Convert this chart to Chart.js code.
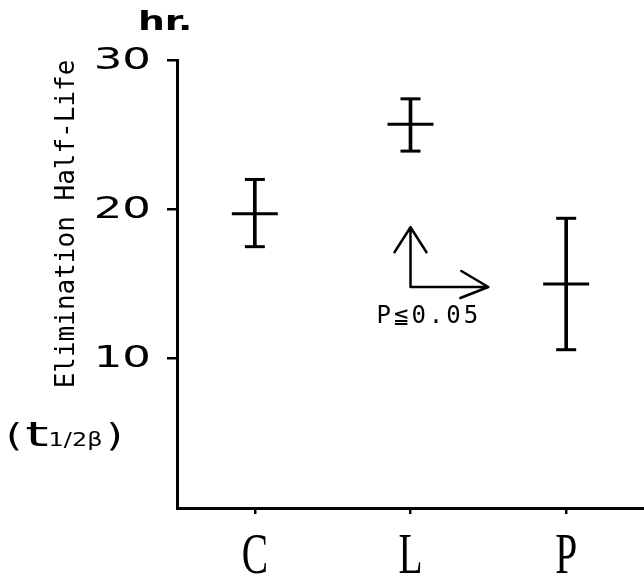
<!DOCTYPE html>
<html>
<head>
<meta charset="utf-8">
<script src="https://cdn.jsdelivr.net/npm/chart.js@4/dist/chart.umd.min.js"></script>
<style>
  html,body{margin:0;padding:0;background:#fff;}
  canvas{display:block;}
</style>
</head>
<body>
<canvas id="c" width="644" height="581"></canvas>
<script>
// groups and elimination half-life readings (hr.)
const groups = ['C', 'L', 'P'];
const meanHL = [19.7, 25.7, 15.0];
const upperHL = [22.0, 27.4, 19.4];
const lowerHL = [17.5, 23.9, 10.6];
const yTicks = [10, 20, 30];

// annotation: arrows from L, in data units
const arrowFrom = {x: 1, y: 14.8};
const arrowUpTo = 18.8;
const arrowRightTo = 1.5;
const pNote = 'P≦0.05';

const ink = '#000';

function wideText(ctx, str, x, y, sx, align){
  ctx.save();
  ctx.translate(x, y);
  ctx.scale(sx, 1);
  ctx.textAlign = align;
  ctx.fillText(str, 0, 0);
  ctx.restore();
}

const labelsPlugin = {
  id: 'labels',
  afterDraw(chart){
    const {ctx, scales:{x, y}} = chart;
    ctx.save();
    ctx.fillStyle = ink;
    ctx.textBaseline = 'middle';

    // y tick labels, wide face
    ctx.font = '30px "DejaVu Sans"';
    y.ticks.forEach(t=>{
      wideText(ctx, String(t.value), y.left - 16, y.getPixelForValue(t.value) + 1, 1.5, 'right');
    });

    // x category labels, tall narrow serif
    ctx.font = '58px "Liberation Serif"';
    ctx.textBaseline = 'alphabetic';
    groups.forEach((g,i)=>{
      wideText(ctx, g, x.getPixelForValue(i), 573, 0.68, 'center');
    });

    // unit
    ctx.font = 'bold 26px "DejaVu Sans"';
    wideText(ctx, 'hr.', 138, 30, 1.45, 'left');

    // axis title, rotated
    ctx.save();
    ctx.translate(74, 224);
    ctx.rotate(-Math.PI/2);
    ctx.font = '26px "DejaVu Sans Mono"';
    ctx.textAlign = 'center';
    ctx.fillText('Elimination Half-Life', 0, 0);
    ctx.restore();

    // (t1/2β)
    let cx = 6;
    const base = 446;
    ctx.textAlign = 'left';
    const part = (s, f, sx, dy)=>{
      ctx.font = f;
      ctx.save(); ctx.translate(cx, base + (dy||0)); ctx.scale(sx,1); ctx.fillText(s,0,0); ctx.restore();
      cx += ctx.measureText(s).width * sx;
    };
    part('(', '32px "DejaVu Sans"', 1.3);
    cx += 3;
    part('t', '34px "DejaVu Sans"', 1.75);
    part('1/2β', '20px "DejaVu Sans"', 1.2);
    cx += 4;
    part(')', '32px "DejaVu Sans"', 1.3);

    // arrows
    const ax = x.getPixelForValue(arrowFrom.x);
    const ay = y.getPixelForValue(arrowFrom.y);
    const topY = y.getPixelForValue(arrowUpTo);
    const rightX = ax + (x.getPixelForValue(arrowFrom.x + 1) - ax) * (arrowRightTo - arrowFrom.x);
    ctx.strokeStyle = ink;
    ctx.lineWidth = 2.5;
    ctx.lineCap = 'round';
    ctx.lineJoin = 'round';
    ctx.beginPath();
    ctx.moveTo(ax, topY); ctx.lineTo(ax, ay); ctx.lineTo(rightX, ay);
    ctx.moveTo(ax - 16, topY + 25); ctx.lineTo(ax, topY); ctx.lineTo(ax + 16, topY + 25);
    ctx.moveTo(rightX - 27, ay - 16); ctx.lineTo(rightX, ay); ctx.lineTo(rightX - 28, ay + 11);
    ctx.stroke();

    // p-value note
    ctx.font = '24px "DejaVu Sans Mono"';
    ctx.textAlign = 'left';
    ctx.letterSpacing = '3px';
    ctx.fillText(pNote, ax - 34, y.getPixelForValue(12.4));
    ctx.letterSpacing = '0px';
    ctx.restore();
  }
};

new Chart(document.getElementById('c'), {
  type: 'bar',
  data: {
    labels: groups,
    datasets: [
      {
        label: 'range',
        data: groups.map((g,i)=>[lowerHL[i], upperHL[i]]),
        backgroundColor: ink,
        borderWidth: 0,
        barThickness: 3
      },
      {
        type: 'line', label: 'mean', data: meanHL, showLine: false,
        pointStyle: 'line', pointRadius: 23, borderColor: ink, borderWidth: 3
      },
      {
        type: 'line', label: 'upper', data: upperHL, showLine: false,
        pointStyle: 'line', pointRadius: 10, borderColor: ink, borderWidth: 3
      },
      {
        type: 'line', label: 'lower', data: lowerHL, showLine: false,
        pointStyle: 'line', pointRadius: 10, borderColor: ink, borderWidth: 3
      }
    ]
  },
  options: {
    responsive: false,
    animation: false,
    layout: {autoPadding: false, padding: {left: 167, top: 60, right: 0, bottom: 67}},
    plugins: {legend: {display: false}, tooltip: {enabled: false}},
    scales: {
      x: {
        offset: true,
        grid: {offset: false, drawOnChartArea: false, drawTicks: true, tickLength: 6, color: ink, lineWidth: 2.5},
        border: {display: true, color: ink, width: 3},
        ticks: {display: false}
      },
      y: {
        min: 0, max: 30,
        afterBuildTicks: s => { s.ticks = yTicks.map(v=>({value: v})); },
        grid: {drawOnChartArea: false, drawTicks: true, tickLength: 10, color: ink, lineWidth: 2.5},
        border: {display: true, color: ink, width: 3},
        ticks: {display: false}
      }
    }
  },
  plugins: [labelsPlugin]
});
</script>
</body>
</html>
